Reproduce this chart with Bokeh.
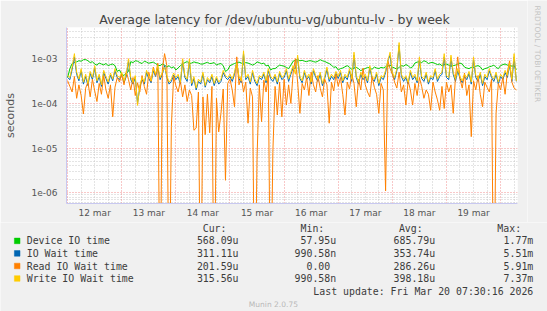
import numpy as np
from bokeh.plotting import figure
from bokeh.layouts import column, row
from bokeh.models import FixedTicker, Grid, CustomJSTickFormatter, Range1d
from bokeh.core.properties import value
from bokeh.embed import file_html
from bokeh.resources import INLINE

# ---------------- data (microseconds) ----------------
# hours since 12 mar 00:00
hours_1h = list(range(0, 200))

device_io_us = [
    380, 600, 780, 820, 850, 900, 880, 950, 960, 900, 820, 860, 760, 720, 800, 760, 730, 780, 700, 740, 760, 700, 520, 560,
    450, 420, 480, 520, 860, 820, 900, 880, 820, 780, 880, 840, 790, 820, 840, 780, 720, 700, 760, 720, 650, 700, 620, 660,
    560, 620, 700, 760, 820, 860, 780, 800, 850, 820, 800, 760, 760, 800, 830, 780, 790, 820, 720, 760, 780, 700, 520, 560,
    700, 740, 780, 820, 840, 800, 760, 820, 800, 760, 720, 760, 850, 820, 770, 800, 690, 720, 560, 600, 600, 660, 720, 700,
    680, 640, 600, 720, 880, 920, 960, 900, 920, 880, 860, 900, 900, 860, 840, 880, 950, 900, 870, 820, 780, 720, 640, 660,
    560, 600, 620, 660, 700, 640, 580, 620, 640, 600, 540, 580, 600, 640, 620, 580, 650, 620, 600, 640, 620, 660, 680, 720,
    650, 620, 580, 640, 700, 680, 740, 700, 620, 660, 800, 840, 860, 820, 900, 860, 780, 820, 820, 780, 740, 760, 700, 740,
    760, 720, 680, 700, 720, 760, 800, 760, 650, 620, 600, 640, 640, 680, 700, 660, 560, 600, 620, 660, 680, 720, 640, 600,
    700, 740, 760, 720, 720, 680, 700, 568,
]

io_wait_us = [
    380, 340, 580, 1100, 450, 320, 540, 270, 400, 250, 470, 340,
    630, 290, 400, 240, 490, 360, 270, 430, 320, 540, 380, 340,
    450, 290, 400, 880, 340, 270, 380, 100, 230, 340, 270, 490,
    360, 290, 540, 400, 630, 340, 450, 700, 380, 270, 310, 430,
    340, 400, 270, 880, 380, 310, 880, 250, 360, 200, 310, 270,
    450, 230, 340, 290, 400, 250, 360, 270, 310, 490, 380, 340,
    400, 310, 450, 850, 360, 290, 1300, 340, 400, 270, 490, 310,
    250, 380, 340, 450, 290, 540, 360, 310, 400, 270, 470, 340,
    380, 540, 310, 450, 630, 600, 1050, 360, 290, 490, 340, 400,
    270, 540, 380, 310, 450, 250, 360, 580, 310, 400, 340, 470,
    360, 490, 290, 400, 340, 540, 310, 1200, 380, 270, 450, 340,
    400, 290, 630, 360, 310, 450, 250, 380, 340, 490, 900, 1200,
    450, 340, 540, 2000, 400, 310, 380, 270, 490, 340, 400, 290,
    950, 360, 310, 450, 270, 380, 340, 540, 310, 400, 450, 1100,
    380, 340, 1050, 450, 310, 540, 360, 290, 400, 340, 470, 270,
    950, 380, 310, 450, 250, 400, 340, 540, 380, 310, 450, 270,
    400, 340, 490, 380, 720, 310, 1100, 311,
]

read_wait_us = [
    # 12 mar
    320, 240, 180, 400, 130, 260, 150, 58, 220, 300, 140, 350,
    190, 110, 280, 160, 420, 200, 130, 260, 50, 230, 380, 300,
    # 13 mar
    450, 260, 520, 340, 200, 380, 150, 290, 180, 420, 240, 160,
    500, 310, 650, 420, 800, 0, 560, 1300, 700, 0, 30, 400,
    # 14 mar
    250, 180, 320, 140, 260, 110, 200, 150, 25, 28, 180, 0,
    140, 20, 160, 22, 240, 0, 130, 23, 60, 210, 1.9, 280,
    # 15 mar
    350, 200, 84, 1100, 260, 400, 180, 300, 36, 220, 140, 0,
    6.3, 260, 39, 330, 180, 420, 0, 8, 240, 55, 300, 50,
    # 16 mar
    350, 92, 260, 100, 480, 1000, 300, 60, 280, 200, 380, 150,
    500, 260, 180, 420, 220, 140, 350, 260, 36, 300, 190, 450,
    # 17 mar
    240, 380, 160, 55, 300, 210, 450, 280, 84, 350, 200, 620,
    260, 180, 140, 400, 230, 160, 60, 280, 200, 1.1, 900, 600,
    # 18 mar
    450, 300, 220, 500, 180, 260, 92, 320, 200, 92, 280, 150,
    380, 240, 130, 200, 160, 70, 300, 180, 120, 70, 240, 77,
    # 19-20 mar
    300, 180, 260, 60, 400, 1100, 350, 220, 480, 150, 260, 18,
    320, 200, 420, 160, 84, 300, 230, 180, 350, 0, 60, 280,
    200, 380, 160, 500, 900, 300, 220, 200,
]

write_wait_us = [
    420, 380, 650, 1300, 500, 350, 600, 300, 450, 280, 520, 380,
    700, 320, 450, 260, 550, 400, 300, 480, 350, 600, 420, 380,
    500, 320, 450, 1000, 380, 300, 420, 90, 250, 380, 300, 550,
    400, 320, 600, 450, 700, 380, 500, 650, 420, 300, 350, 480,
    380, 450, 300, 1000, 420, 350, 1000, 280, 400, 220, 350, 300,
    500, 250, 380, 320, 450, 280, 400, 300, 350, 550, 420, 380,
    450, 350, 500, 800, 400, 320, 1500, 380, 450, 300, 550, 350,
    280, 420, 380, 500, 320, 600, 400, 350, 450, 300, 520, 380,
    420, 600, 350, 500, 700, 450, 1200, 400, 320, 550, 380, 450,
    300, 600, 420, 350, 500, 280, 400, 650, 350, 450, 380, 520,
    400, 550, 320, 450, 380, 600, 350, 1400, 420, 300, 500, 380,
    450, 320, 700, 400, 350, 500, 280, 420, 380, 550, 900, 1400,
    500, 380, 600, 2300, 450, 350, 420, 300, 550, 380, 450, 320,
    1100, 400, 350, 500, 300, 420, 380, 600, 350, 450, 500, 1300,
    420, 380, 1200, 500, 350, 600, 400, 320, 450, 380, 520, 300,
    1100, 420, 350, 500, 280, 450, 380, 600, 420, 350, 500, 300,
    450, 380, 550, 420, 800, 350, 1300, 315,
]

day_labels = ["12 mar", "13 mar", "14 mar", "15 mar", "16 mar", "17 mar", "18 mar", "19 mar"]

legend_names = ["Device IO time", "IO Wait time", "Read IO Wait time", "Write IO Wait time"]
legend_colors = ["#00cc00", "#0066b3", "#ff8000", "#ffcc00"]
legend_cur = ["568.09u", "311.11u", "201.59u", "315.56u"]
legend_min = ["57.95u", "990.58n", "0.00", "990.58n"]
legend_avg = ["685.79u", "353.74u", "286.26u", "398.18u"]
legend_max = ["1.77m", "5.51m", "5.91m", "7.37m"]
header_labels = ["Cur:", "Min:", "Avg:", "Max:"]

title_text = "Average latency for /dev/ubuntu-vg/ubuntu-lv - by week"
last_update = "Last update: Fri Mar 20 07:30:16 2026"
version_text = "Munin 2.0.75"
watermark_text = "RRDTOOL / TOBI OETIKER"

# ---------------- styling constants ----------------
BG = "#f0f0f0"
AX = "#c8c8f0"
GRAY = "#c8c8c8"
RED = "#f09090"
LEG = "#3c3c3c"
TOP_H = 222          # height of the chart strip
YMIN, YMAX = 5.74e-7, 5.0e-3

# ---------------- main chart ----------------
p = figure(width=527, height=TOP_H, y_axis_type="log",
           x_range=Range1d(-0.5, 199.5), y_range=Range1d(YMIN, YMAX),
           output_backend="svg", toolbar_location=None,
           min_border_left=66, min_border_right=10, min_border_top=27, min_border_bottom=19)
p.background_fill_color = "#ffffff"
p.border_fill_color = BG
p.outline_line_color = None
p.xgrid.visible = False
p.ygrid.visible = False

p.title.text = title_text
p.title.text_font = "DejaVu Sans"
p.title.text_font_size = "12.5px"
p.title.text_font_style = "normal"
p.title.text_color = "#444444"
p.title.align = "left"
p.title.offset = 32.7
p.title.standoff = 2

decades = [1e-6, 1e-5, 1e-4, 1e-3]
minor_y = [k * 10.0 ** e for e in range(-7, -2) for k in range(2, 10)]
midnights = [24 * d for d in range(0, 9)]
six_h = [6 * k for k in range(0, 34) if (6 * k) % 24 != 0]
noons = [24 * d + 12 for d in range(len(day_labels))]

p.add_layout(Grid(dimension=0, ticker=FixedTicker(ticks=six_h), grid_line_color=GRAY,
                  grid_line_dash="1 2"))
p.add_layout(Grid(dimension=1, ticker=FixedTicker(ticks=minor_y), grid_line_color=GRAY,
                  grid_line_dash="1 2"))
p.add_layout(Grid(dimension=0, ticker=FixedTicker(ticks=midnights), grid_line_color=RED,
                  grid_line_dash="1 2"))
p.add_layout(Grid(dimension=1, ticker=FixedTicker(ticks=decades), grid_line_color=RED,
                  grid_line_dash="1 2"))

def us(vals):
    return np.maximum(np.array(vals, dtype=float), 0.001) * 1e-6

p.line(hours_1h, us(device_io_us), line_color=legend_colors[0], line_width=1)
p.line(hours_1h, us(io_wait_us), line_color=legend_colors[1], line_width=1)
p.line(hours_1h, us(read_wait_us), line_color=legend_colors[2], line_width=1)
p.line(hours_1h, us(write_wait_us), line_color=legend_colors[3], line_width=1)

for ax in (p.xaxis[0], p.yaxis[0]):
    ax.axis_line_color = AX
    ax.major_tick_line_color = None
    ax.minor_tick_line_color = None
    ax.major_tick_out = 0
    ax.major_tick_in = 0
    ax.minor_tick_out = 0
    ax.minor_tick_in = 0
    ax.major_label_text_font = "DejaVu Sans"
    ax.major_label_text_font_size = "9px"
    ax.major_label_text_color = "#555555"

p.xaxis.ticker = FixedTicker(ticks=noons)
p.xaxis.major_label_overrides = {t: lab for t, lab in zip(noons, day_labels)}
p.xaxis.major_label_standoff = 4
p.yaxis.ticker = FixedTicker(ticks=decades)
p.yaxis.formatter = CustomJSTickFormatter(code="""
const e = Math.round(Math.log10(tick));
const s = String(Math.abs(e)).padStart(2, '0');
return '1e' + (e < 0 ? '-' : '+') + s;
""")
p.yaxis.major_label_standoff = 9
p.yaxis.axis_label = "seconds"
p.yaxis.axis_label_text_font = "DejaVu Sans"
p.yaxis.axis_label_text_font_size = "11px"
p.yaxis.axis_label_text_font_style = "normal"
p.yaxis.axis_label_text_color = "#555555"
p.yaxis.axis_label_standoff = 12

# ---------------- watermark strip (pixel coordinates, y measured up) ----------------
wm = figure(width=20, height=TOP_H, x_range=Range1d(527, 547), y_range=Range1d(0, TOP_H),
            output_backend="svg", toolbar_location=None, min_border=0,
            x_axis_location=None, y_axis_location=None)
wm.background_fill_color = BG
wm.border_fill_color = BG
wm.outline_line_color = None
wm.grid.visible = False
wm.text(x=[536.7], y=[TOP_H - 53.4], text=[watermark_text], angle=-np.pi / 2,
        text_font=value("DejaVu Sans"), text_font_size="7.5px", text_color="#c4c4c4",
        text_align="center", text_baseline="middle")

# ---------------- legend strip (pixel coordinates) ----------------
lg = figure(width=547, height=311 - TOP_H, x_range=Range1d(0, 547), y_range=Range1d(311, TOP_H),
            output_backend="svg", toolbar_location=None, min_border=0,
            x_axis_location=None, y_axis_location=None)
lg.background_fill_color = BG
lg.border_fill_color = BG
lg.outline_line_color = None
lg.grid.visible = False

FS = "9.9px"
MONO = value("DejaVu Sans Mono")
rows_y = [240.4, 252.9, 265.5, 278.0]
head_y = 227.8

lg.text(x=[226, 323.8, 422.2, 520.6], y=[head_y] * 4, text=header_labels,
        text_font=MONO, text_font_size=FS, text_color=LEG, text_align="right", text_baseline="middle")
lg.rect(x=[16.7] * 4, y=rows_y, width=5.6, height=5.6, fill_color=legend_colors,
        line_color=legend_colors, line_width=0.5)
lg.text(x=[26.2] * 4, y=rows_y, text=legend_names,
        text_font=MONO, text_font_size=FS, text_color=LEG, text_align="left", text_baseline="middle")
for col_x, vals in ((238, legend_cur), (335.7, legend_min), (434.7, legend_avg), (532.8, legend_max)):
    xs = [col_x if v[-1] in "unm" else col_x - 5.96 for v in vals]
    lg.text(x=xs, y=rows_y, text=vals, text_font=MONO, text_font_size=FS, text_color=LEG,
            text_align="right", text_baseline="middle")
lg.text(x=[532.8], y=[290.6], text=[last_update], text_font=MONO, text_font_size=FS,
        text_color=LEG, text_align="right", text_baseline="middle")
lg.text(x=[272.9], y=[303.9], text=[version_text], text_font=value("DejaVu Sans"),
        text_font_size="7.5px", text_color="#b8b8b8", text_align="center", text_baseline="middle")

# the watermark strip is wrapped in its own column so that its frame is not
# aligned with the chart frame
layout = column(row(p, column(wm, spacing=0), spacing=0), lg, spacing=0)
open("out.html", "w").write(file_html(layout, INLINE))
